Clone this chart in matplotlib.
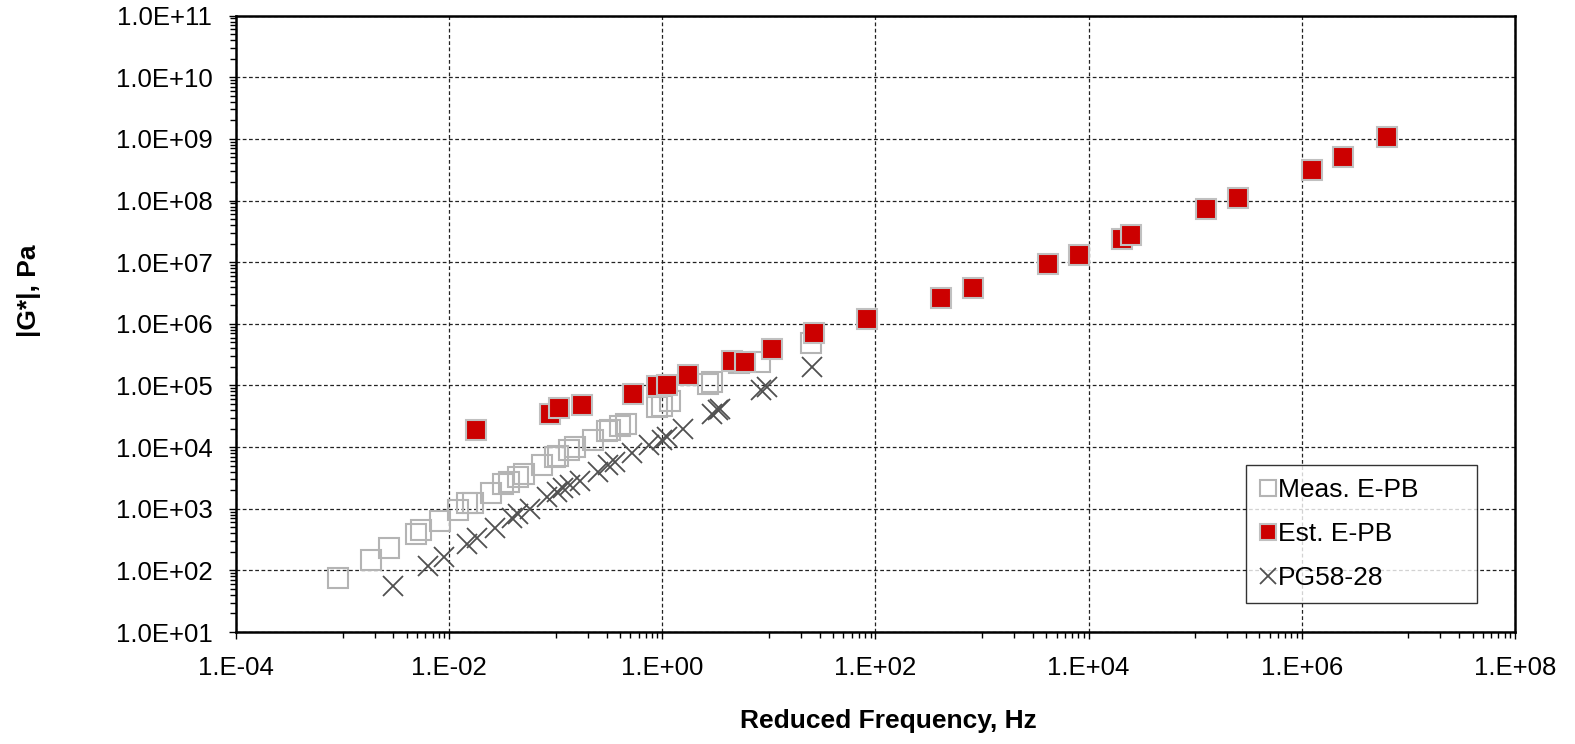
import numpy as np
import matplotlib.pyplot as plt
from matplotlib.ticker import LogLocator, FuncFormatter, NullFormatter, FixedLocator

plt.rcParams['font.family'] = ['Liberation Sans', 'DejaVu Sans']

# Meas. E-PB (open squares)
meas_freq = [9.0e-4, 1.85e-3, 2.7e-3, 4.9e-3, 5.5e-3, 8.2e-3, 0.0122, 0.0146, 0.0166,
             0.0245, 0.032, 0.0367, 0.0447, 0.050, 0.074, 0.098, 0.105, 0.134, 0.151,
             0.222, 0.30, 0.32, 0.40, 0.456, 0.885, 0.99, 1.18, 2.7, 2.9, 5.3, 8.2, 25.0]
meas_g = [74, 150, 235, 385, 447, 630, 945, 1.22e3, 1.26e3,
          1.8e3, 2.5e3, 2.7e3, 3.3e3, 3.6e3, 5.1e3, 6.9e3, 7.1e3, 8.9e3, 9.9e3,
          1.29e4, 1.8e4, 1.87e4, 2.2e4, 2.4e4, 4.4e4, 4.6e4, 5.6e4, 1.07e5, 1.14e5, 2.3e5, 2.4e5, 4.8e5]

# Est. E-PB (filled red squares)
est_freq = [0.0178, 0.088, 0.107, 0.176, 0.53, 0.89, 1.1, 1.74, 4.5, 5.96, 10.7, 26.5, 83,
            410, 815, 4140, 8100, 2.05e4, 2.5e4, 1.26e5, 2.5e5, 1.24e6, 2.46e6, 6.3e6]
est_g = [1.9e4, 3.5e4, 4.3e4, 4.8e4, 7.2e4, 9.8e4, 1.0e5, 1.5e5, 2.45e5, 2.4e5, 3.9e5, 7.1e5, 1.19e6,
         2.6e6, 3.8e6, 9.3e6, 1.3e7, 2.35e7, 2.8e7, 7.2e7, 1.09e8, 3.1e8, 5.0e8, 1.07e9]

# PG58-28 (crosses)
pg_freq = [3.0e-3, 6.3e-3, 8.9e-3, 0.0146, 0.0181, 0.027, 0.0386, 0.0446, 0.0575, 0.082,
           0.102, 0.118, 0.136, 0.169, 0.25, 0.31, 0.36, 0.515, 0.75, 0.99, 1.1, 1.55,
           2.9, 3.3, 3.5, 8.5, 9.5, 25.5]
pg_g = [55, 118, 166, 272, 340, 495, 720, 835, 1.0e3, 1.55e3,
        1.87e3, 2.2e3, 2.4e3, 2.8e3, 4.0e3, 5.1e3, 5.8e3, 7.9e3, 1.07e4, 1.29e4, 1.47e4, 2.0e4,
        3.5e4, 4.0e4, 4.2e4, 8.6e4, 9.5e4, 2.0e5]

fig = plt.figure(figsize=(15.75, 7.44), dpi=100)
ax = fig.add_axes([0.1498, 0.1505, 0.8121, 0.8285])

ms = 14
ax.plot(meas_freq, meas_g, linestyle='none', marker='s', markersize=ms,
        markerfacecolor='none', markeredgecolor='#b4b4b4', markeredgewidth=1.5,
        label='Meas. E-PB', zorder=3)
ax.plot(est_freq, est_g, linestyle='none', marker='s', markersize=ms,
        markerfacecolor='#cc0000', markeredgecolor='#c0c0c0', markeredgewidth=1.5,
        label='Est. E-PB', zorder=4)
ax.plot(pg_freq, pg_g, linestyle='none', marker='x', markersize=ms,
        markeredgecolor='#505050', markeredgewidth=1.3,
        label='PG58-28', zorder=3)

ax.set_xscale('log')
ax.set_yscale('log')
ax.set_xlim(1e-4, 1e8)
ax.set_ylim(1e1, 1e11)

# Excel-style log ticks: x major every 2 decades, minor at m*10^(odd)
ax.xaxis.set_major_locator(FixedLocator([10.0 ** k for k in range(-4, 9, 2)]))
ax.xaxis.set_minor_locator(FixedLocator([m * 10.0 ** k for k in range(-3, 8, 2) for m in range(1, 10)]))
ax.yaxis.set_major_locator(FixedLocator([10.0 ** k for k in range(1, 12)]))
ax.yaxis.set_minor_locator(LogLocator(base=10, subs=np.arange(2, 10), numticks=30))
ax.xaxis.set_minor_formatter(NullFormatter())
ax.yaxis.set_minor_formatter(NullFormatter())


def fmt_x(v, pos):
    e = int(round(np.log10(v)))
    return '1.E%s%02d' % ('+' if e >= 0 else '-', abs(e))


def fmt_y(v, pos):
    e = int(round(np.log10(v)))
    return '1.0E%s%02d' % ('+' if e >= 0 else '-', abs(e))


ax.xaxis.set_major_formatter(FuncFormatter(fmt_x))
ax.yaxis.set_major_formatter(FuncFormatter(fmt_y))

ax.tick_params(which='major', direction='out', length=5, width=1, labelsize=18.5)
ax.tick_params(which='minor', direction='out', length=4, width=1)
ax.tick_params(axis='x', which='major', pad=12)
ax.tick_params(axis='y', which='major', pad=12)

ax.grid(True, which='major', linestyle=(0, (3, 2)), color='#222222', linewidth=0.9)
for s in ax.spines.values():
    s.set_linewidth(1.8)
    s.set_color('black')

# axis titles placed as in the original (slightly off-centre)
fig.text(0.5638, 0.0309, 'Reduced Frequency, Hz', fontsize=19, fontweight='bold',
         ha='center', va='center')
fig.text(0.0184, 0.609, '|G*|, Pa', fontsize=19, fontweight='bold',
         ha='center', va='center', rotation=90)

leg = ax.legend(loc='lower left', bbox_to_anchor=(0.79, 0.047, 0.18, 0.227), mode='expand',
                fontsize=19, frameon=True, fancybox=False, edgecolor='black',
                markerscale=0.85, handlelength=0.6, handletextpad=0.1,
                labelspacing=0.75, borderpad=0.5, borderaxespad=0)
leg.get_frame().set_linewidth(1.0)

fig.savefig('out.png', dpi=100)
